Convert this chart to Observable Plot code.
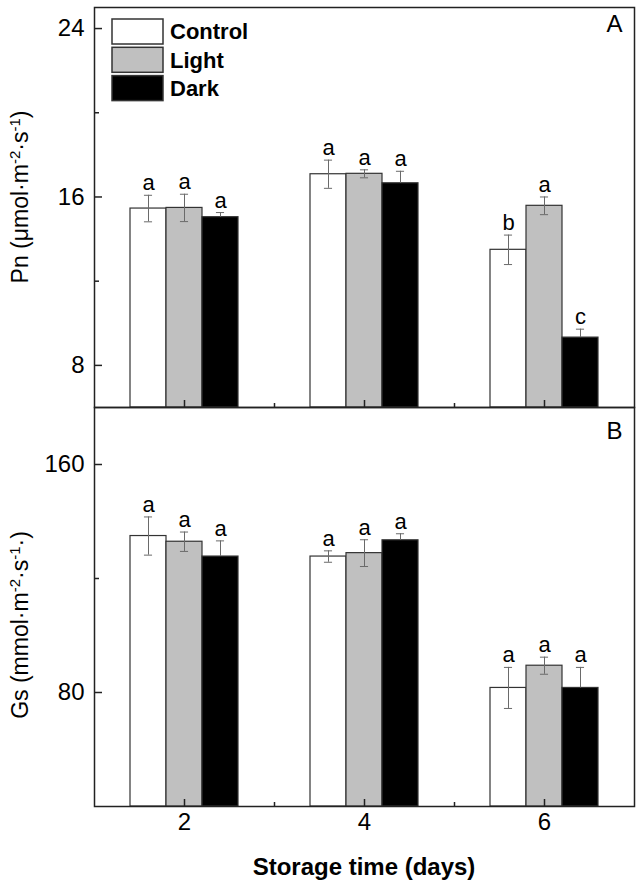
<!DOCTYPE html>
<html><head><meta charset="utf-8">
<script src="https://cdn.jsdelivr.net/npm/d3@7"></script>
<script src="https://cdn.jsdelivr.net/npm/@observablehq/plot@0.6"></script>
<style>
body{margin:0;background:#fff;}
#chart{position:relative;width:642px;height:887px;font-family:"Liberation Sans",Arial,sans-serif;}
#chart svg{position:absolute;left:0;}
</style></head><body><div id="chart"></div>
<script>
// ---- data ----
const days = [2, 4, 6];
const series = ["Control", "Light", "Dark"];
const fills = ["#ffffff", "#c0c0c0", "#000000"];

// Pn (rows: Control, Light, Dark; columns: days 2, 4, 6)
const pnMeans = [[15.45, 17.08, 13.49], [15.48, 17.10, 15.58], [15.04, 16.65, 9.32]];
const pnErrs = [[0.63, 0.67, 0.70], [0.65, 0.19, 0.42], [0.22, 0.57, 0.40]];
const pnLetters = [["a", "a", "b"], ["a", "a", "a"], ["a", "a", "c"]];

// Gs
const gsMeans = [[134.9, 127.7, 81.6], [132.9, 128.9, 89.4], [127.7, 133.4, 81.6]];
const gsErrs = [[6.7, 2.0, 7.2], [3.4, 4.7, 3.0], [5.5, 2.3, 7.2]];
const gsLetters = [["a", "a", "a"], ["a", "a", "a"], ["a", "a", "a"]];

const pnMajor = [8, 16, 24], pnMinor = [12, 20];
const gsMajor = [80, 160], gsMinor = [120];
const xMajor = [2, 4, 6], xMinor = [3, 5];

const barW = 0.4;
function buildRows(means, errs, letters) {
  const rows = [];
  series.forEach((s, i) => days.forEach((d, j) => rows.push({
    series: s, day: d, x: d + (i - 1) * barW,
    mean: means[i][j], err: errs[i][j], letter: letters[i][j]
  })));
  return rows;
}

const font = '"Liberation Sans", Arial, sans-serif';

function panel({rows, domain, major, minor, letter, letterDy, height, marginTop, marginBottom, xLabels}) {
  const marks = [
    Plot.rect(rows, {x1: d => d.x - barW / 2, x2: d => d.x + barW / 2, y1: () => domain[0], y2: "mean",
      fill: "series", stroke: "#333", strokeWidth: 1.2}),
    Plot.ruleX(rows, {x: "x", y1: d => d.series === "Dark" ? d.mean : d.mean - d.err, y2: d => d.mean + d.err,
      stroke: "#6a6a6a", strokeWidth: 1}),
    Plot.ruleY(rows, {y: d => d.mean + d.err, x1: d => d.x - 0.045, x2: d => d.x + 0.045, stroke: "#6a6a6a", strokeWidth: 1}),
    Plot.ruleY(rows.filter(d => d.series !== "Dark"), {y: d => d.mean - d.err, x1: d => d.x - 0.045, x2: d => d.x + 0.045, stroke: "#6a6a6a", strokeWidth: 1}),
    Plot.text(rows, {x: "x", y: d => d.mean + d.err, text: "letter", lineAnchor: "bottom", dy: -5, fontSize: 22, fill: "#000"}),
    Plot.frame({stroke: "#222", strokeWidth: 1.5}),
    Plot.axisY({ticks: major, tickSize: -8, tickFormat: () => "", label: null, strokeWidth: 1.5, stroke: "#222"}),
    Plot.axisY({ticks: minor, tickSize: -5, tickFormat: () => "", label: null, strokeWidth: 1.5, stroke: "#222"}),
    Plot.axisY({ticks: major, tickSize: 0, tickPadding: 10, tickFormat: "d", label: null, fontSize: 24, fill: "#000"}),
    Plot.axisX({ticks: xMajor, tickSize: -7, tickFormat: () => "", label: null, strokeWidth: 1.5, stroke: "#222"}),
    Plot.axisX({ticks: xMinor, tickSize: -4, tickFormat: () => "", label: null, strokeWidth: 1.5, stroke: "#222"}),
    Plot.text([letter], {frameAnchor: "top-right", dx: -12, dy: letterDy, lineAnchor: "top", fontSize: 24, fill: "#000"})
  ];
  if (xLabels) marks.push(Plot.axisX({ticks: xMajor, tickSize: 0, tickPadding: 6, tickFormat: "d", label: null, fontSize: 24, fill: "#000"}));
  return Plot.plot({
    width: 642, height, marginLeft: 94, marginRight: 8, marginTop, marginBottom,
    x: {domain: [1, 7]},
    y: {domain},
    color: {domain: series, range: fills},
    style: {fontFamily: font, background: "transparent", color: "#000", overflow: "visible"},
    marks
  });
}

const chart = document.getElementById("chart");

const svgA = panel({rows: buildRows(pnMeans, pnErrs, pnLetters), domain: [6, 25], major: pnMajor, minor: pnMinor,
  letter: "A", letterDy: 7, height: 410, marginTop: 7, marginBottom: 3, xLabels: false});
svgA.style.top = "0px";
chart.appendChild(svgA);

const svgB = panel({rows: buildRows(gsMeans, gsErrs, gsLetters), domain: [40, 180], major: gsMajor, minor: gsMinor,
  letter: "B", letterDy: 14, height: 483, marginTop: 3, marginBottom: 81, xLabels: true});
svgB.style.top = "404px";
chart.appendChild(svgB);

// y-axis titles with superscripts
function yTitle(svg, cy, parts) {
  const t = d3.select(svg).append("text")
    .attr("transform", `translate(28,${cy}) rotate(-90)`)
    .attr("text-anchor", "middle").attr("font-family", font).attr("font-size", 23).attr("fill", "#000");
  parts.forEach(([txt, sup]) => {
    const ts = t.append("tspan").text(txt);
    if (sup) ts.attr("font-size", 15).attr("baseline-shift", "55%");
  });
}
yTitle(svgA, 197, [["Pn (μmol·m"], ["-2", true], ["·s"], ["-1", true], [")"]]);
yTitle(svgB, 221, [["Gs (mmol·m"], ["-2", true], ["·s"], ["-1", true], ["·)"]]);

// x-axis title
d3.select(svgB).append("text").attr("x", 364).attr("y", 471).attr("text-anchor", "middle")
  .attr("font-family", font).attr("font-size", 24).attr("font-weight", "bold").attr("fill", "#000")
  .text("Storage time (days)");

// legend
const lg = d3.select(svgA).append("g").attr("text-anchor", "start");
series.forEach((s, i) => {
  const y = 19 + i * 28.3;
  lg.append("rect").attr("x", 112).attr("y", y).attr("width", 51).attr("height", 25)
    .attr("fill", fills[i]).attr("stroke", "#333").attr("stroke-width", 1.5);
  lg.append("text").attr("x", 170).attr("y", y + 12.5).attr("dy", "0.36em").attr("text-anchor", "start")
    .attr("font-family", font).attr("font-size", 22).attr("font-weight", "bold").attr("fill", "#000").text(s);
});
</script></body></html>
